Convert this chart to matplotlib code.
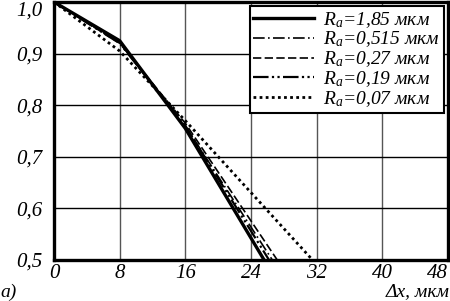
import matplotlib.pyplot as plt

plt.rcParams['font.family'] = ['Liberation Serif', 'DejaVu Serif']
plt.rcParams['font.style'] = 'italic'
plt.rcParams['mathtext.fontset'] = 'custom'
plt.rcParams['mathtext.it'] = 'Liberation Serif:italic'
plt.rcParams['mathtext.rm'] = 'Liberation Serif:italic'

# data
labels = ['1,85', '0,515', '0,27', '0,19', '0,07']
x_pts = [
    [0, 8, 16, 25.6],
    [0, 8, 16, 26.6],
    [0, 8, 16, 27.2],
    [0, 8, 16, 26.2],
    [0, 8, 16, 31.5],
]
y_pts = [
    [1.0, 0.925, 0.755, 0.5],
    [1.0, 0.922, 0.76, 0.5],
    [1.0, 0.92, 0.765, 0.5],
    [1.0, 0.92, 0.76, 0.5],
    [1.0, 0.905, 0.77, 0.5],
]
xticks = [0, 8, 16, 24, 32, 40, 48]
yticks = [0.5, 0.6, 0.7, 0.8, 0.9, 1.0]

styles = [
    dict(ls='-', lw=2.4),
    dict(ls=(0, (7, 2, 1, 2)), lw=1.2),
    dict(ls=(0, (5, 2)), lw=1.2),
    dict(ls=(0, (7, 1.5, 1, 1.5, 1, 1.5)), lw=1.6),
    dict(ls=(0, (1, 1.2)), lw=2.0),
]

fig = plt.figure(figsize=(4.5, 3.01), dpi=100)
ax = fig.add_axes([54 / 450, 1 - 260 / 301, 394 / 450, 258 / 301])

for xs, ys, lab, st in zip(x_pts, y_pts, labels, styles):
    ax.plot(xs, ys, color='black', label='$R_a$=' + lab + ' мкм', **st)

ax.set_xlim(0, 48)
ax.set_ylim(0.5, 1.0)
ax.set_xticks(xticks)
ax.set_yticks(yticks)
ax.set_xticklabels([str(t) for t in xticks])
ax.set_yticklabels([f'{t:.1f}'.replace('.', ',') for t in yticks])
ax.get_yticklabels()[-1].set_va('top')
ax.get_xticklabels()[-1].set_ha('right')
for t in xticks[1:-1]:
    ax.axvline(t, color='#555555', lw=1.0, zorder=0)
for t in yticks[1:-1]:
    ax.axhline(t, color='black', lw=1.0, zorder=0)
ax.tick_params(length=0, labelsize=15)
ax.tick_params(axis='y', pad=8)
ax.tick_params(axis='x', pad=3)
for s in ax.spines.values():
    s.set_linewidth(2.4)

leg = ax.legend(loc='upper right', fontsize=14, handlelength=3.1, labelspacing=0.0,
                borderpad=0.2, handletextpad=0.5, fancybox=False, framealpha=1,
                edgecolor='black', borderaxespad=0.2)
leg.get_frame().set_linewidth(1.5)

fig.text(450 / 450, 1 - 300 / 301, 'Δx, мкм', ha='right', va='bottom', fontsize=14)
fig.text(0, 1 - 301 / 301, 'а)', ha='left', va='bottom', fontsize=14)

plt.savefig('out.png', dpi=100)
